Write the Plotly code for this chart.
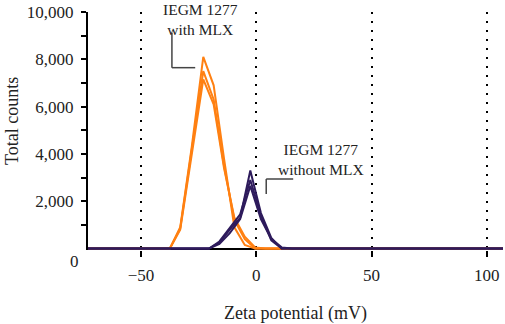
import plotly.graph_objects as go

# Zeta potential (mV) sample positions and total counts
x_with = [-75, -42, -37.5, -33, -28, -23, -18.5, -14, -9.5, -5, -0.5, 4, 110]
with_mlx_1 = [0, 0, 0, 900, 4300, 8100, 6900, 3800, 900, 150, 0, 0, 0]
with_mlx_2 = [0, 0, 0, 850, 4200, 7500, 6300, 3500, 1200, 400, 0, 0, 0]
with_mlx_3 = [0, 0, 0, 800, 4000, 7150, 6100, 3400, 1300, 500, 50, 0, 0]

x_without = [-75, -25, -20.5, -16, -11.5, -7, -2.6, 2, 6.5, 11, 15.5, 110]
without_mlx_1 = [0, 0, 0, 250, 800, 1300, 3300, 1500, 450, 0, 0, 0]
without_mlx_2 = [0, 0, 0, 300, 900, 1450, 2900, 1400, 350, 0, 0, 0]
without_mlx_3 = [0, 0, 0, 200, 650, 1250, 2650, 1250, 400, 50, 0, 0]

x_ticks = [-50, 0, 50, 100]
y_ticks = [2000, 4000, 6000, 8000, 10000]
y_minor = [1000, 3000, 5000, 7000, 9000]

ORANGE = "#FF8012"
PURPLE = "#2E1B5C"
FONT = "Liberation Serif"
TXT = "#222222"

fig = go.Figure()
for ys in (with_mlx_1, with_mlx_2, with_mlx_3):
    fig.add_trace(go.Scatter(x=x_with, y=ys, mode="lines",
                             line=dict(color=ORANGE, width=2), showlegend=False))
for ys in (without_mlx_1, without_mlx_2, without_mlx_3):
    fig.add_trace(go.Scatter(x=x_without, y=ys, mode="lines",
                             line=dict(color=PURPLE, width=2), showlegend=False))

# callout lines (data coordinates)
callout = dict(color="#444444", width=1.5)
fig.add_shape(type="line", x0=-36.6, x1=-36.6, y0=9118, y1=7647, line=callout)
fig.add_shape(type="line", x0=-36.6, x1=-26.5, y0=7647, y1=7647, line=callout)
fig.add_shape(type="line", x0=4.3, x1=4.3, y0=2941, y1=2311, line=callout)
fig.add_shape(type="line", x0=4.3, x1=16.0, y0=2941, y1=2941, line=callout)

tf = dict(family=FONT, size=15.5, color=TXT)
for txt, x, y in [("IEGM 1277<br>with MLX", -24.3, 0.97),
                  ("IEGM 1277<br>without MLX", 28.2, 0.382)]:
    fig.add_annotation(x=x, xref="x", y=y, yref="paper", text=txt, showarrow=False,
                       font=tf, xanchor="center", yanchor="middle", align="center")

# y zero label, offset down as in the reference
fig.add_annotation(x=0, xref="paper", y=0, yref="y", text="0", showarrow=False,
                   font=dict(family=FONT, size=17, color=TXT),
                   xanchor="right", yanchor="middle", xshift=-7, yshift=-13)
# axis titles
fig.add_annotation(x=0, xref="paper", y=0.542, yref="paper", text="Total counts",
                   textangle=-90, showarrow=False,
                   font=dict(family=FONT, size=18, color=TXT),
                   xanchor="center", yanchor="middle", xshift=-76)
fig.add_annotation(x=0.5, xref="paper", y=0, yref="paper", text="Zeta potential (mV)",
                   showarrow=False, font=dict(family=FONT, size=18, color=TXT),
                   xanchor="center", yanchor="middle", yshift=-63)

fig.update_layout(
    width=505, height=324,
    margin=dict(l=88, r=2, t=12, b=74),
    paper_bgcolor="white", plot_bgcolor="white",
    font=dict(family=FONT, size=17, color=TXT),
    xaxis=dict(range=[-73, 107], tickvals=x_ticks, ticks="outside", ticklen=6,
               tickwidth=2, tickcolor="black", showline=False,
               showgrid=True, gridcolor="black", gridwidth=2, griddash="2px,7px",
               zeroline=False, ticklabelstandoff=4, layer="below traces"),
    yaxis=dict(range=[-60, 10000], tickvals=y_ticks, tickformat=",d",
               ticks="outside", ticklen=5, tickwidth=2, tickcolor="black",
               minor=dict(tickvals=y_minor, ticks="outside", ticklen=5,
                          tickwidth=2, tickcolor="black"),
               showline=True, linecolor="black", linewidth=2, showgrid=False,
               zeroline=True, zerolinecolor="black", zerolinewidth=1.5,
               ticklabelstandoff=4, layer="below traces"),
)

fig.write_html("out.html", config={"displayModeBar": False},
               post_script="document.body.style.margin='0';")
